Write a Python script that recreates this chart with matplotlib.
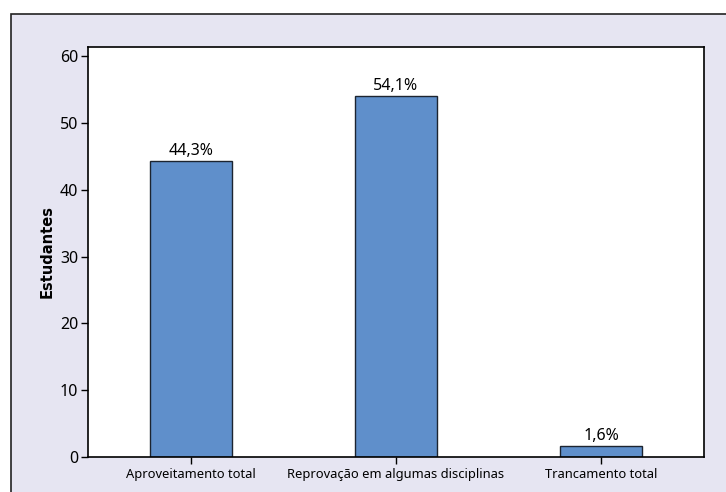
import matplotlib.pyplot as plt
from matplotlib.patches import Rectangle

categorias = ['Aproveitamento total', 'Reprovação em algumas disciplinas', 'Trancamento total']
valores = [44.3, 54.1, 1.6]
rotulos = ['44,3%', '54,1%', '1,6%']
yticks = [0, 10, 20, 30, 40, 50, 60]

plt.rcParams['font.family'] = ['Noto Sans', 'DejaVu Sans']

W, H = 726, 492
fig = plt.figure(figsize=(W / 100, H / 100), dpi=100, facecolor='white')

# moldura lilás de fundo (cortada à direita e embaixo)
fig.patches.append(Rectangle((10.5 / W, -0.05), 1.1, 1 - 13.5 / H + 0.05,
                             transform=fig.transFigure, facecolor='#E6E5F2',
                             edgecolor='#222222', linewidth=1.2, zorder=-10))

ax = fig.add_axes([88 / W, 1 - 457 / H, (704 - 88) / W, (457 - 47) / H])
ax.set_facecolor('white')

x = range(len(categorias))
barras = ax.bar(x, valores, width=0.4, color='#5F8FCB', edgecolor='#1C2430', linewidth=1.0)
for b, r in zip(barras, rotulos):
    ax.text(b.get_x() + b.get_width() / 2, b.get_height() + 0.3, r,
            ha='center', va='bottom', fontsize=11.5)

ax.set_xlim(-0.5, 2.5)
ax.set_ylim(0, 61.4)
ax.set_yticks(yticks)
ax.set_xticks(list(x))
ax.set_xticklabels(categorias, fontsize=9.3)
ax.tick_params(axis='y', labelsize=11.5, length=5, width=1, pad=2)
ax.tick_params(axis='x', length=5, width=1, pad=3)
ax.set_ylabel('Estudantes', fontsize=10.5, fontweight='bold', labelpad=4,
              family=['DejaVu Sans'])
for s in ax.spines.values():
    s.set_linewidth(1.2)
    s.set_color('black')

fig.savefig('out.png', dpi=100)
